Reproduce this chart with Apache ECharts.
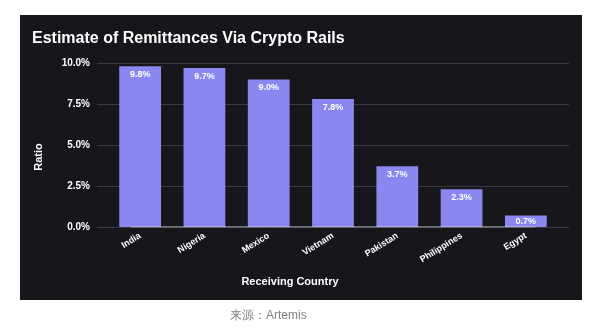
<!DOCTYPE html>
<html><head><meta charset="utf-8">
<script src="https://cdn.jsdelivr.net/npm/echarts@6/dist/echarts.min.js"></script>
<style>html,body{margin:0;padding:0;background:#fff}#c{width:600px;height:336px}</style>
</head><body><div id="c"></div>
<script>
const categories = ['India','Nigeria','Mexico','Vietnam','Pakistan','Philippines','Egypt'];
const values = [9.8, 9.7, 9.0, 7.8, 3.7, 2.3, 0.7];
const yTicks = [0, 2.5, 5, 7.5, 10];
const titleText = 'Estimate of Remittances Via Crypto Rails';
const xName = 'Receiving Country';
const yName = 'Ratio';
const sourceText = '来源：Artemis';

const font = '"Liberation Sans", Arial, sans-serif';
const chart = echarts.init(document.getElementById('c'), null, {renderer:'canvas'});
chart.setOption({
  backgroundColor: '#ffffff',
  animation: false,
  graphic: [
    {type:'rect', z:-10, shape:{x:20,y:15,width:562,height:285}, style:{fill:'#16161b'}},
    {type:'text', left:32, top:31, style:{text:titleText, fill:'#ffffff', font:'bold 16px '+font}},
    {type:'text', x:290, y:282, style:{text:xName, fill:'#ffffff', font:'bold 11px '+font, align:'center', verticalAlign:'middle'}},
    {type:'text', x:39, y:157, rotation:Math.PI/2, style:{text:yName, fill:'#ffffff', font:'bold 11px '+font, align:'center', verticalAlign:'middle'}},
    {type:'text', x:230, y:316, style:{text:sourceText, fill:'#808080', font:'12px '+font, verticalAlign:'middle'}}
  ],
  grid: [
    {left:97, right:31, top:63, bottom:109},
    {left:108, right:42, top:63, bottom:109}
  ],
  xAxis: [
    {type:'category', gridIndex:0, data:categories, show:false},
    {type:'category', gridIndex:1, data:categories,
     axisLine:{show:false}, axisTick:{show:false},
     axisLabel:{rotate:32, color:'#ffffff', fontWeight:'bold', fontSize:9, fontFamily:font, margin:8, interval:0}}
  ],
  yAxis: [
    {type:'value', gridIndex:0, min:yTicks[0], max:yTicks[yTicks.length-1], interval:2.5,
     axisLine:{show:false}, axisTick:{show:false},
     splitLine:{lineStyle:{color:'#3a3a42', width:1}},
     axisLabel:{color:'#ffffff', fontWeight:'bold', fontSize:10, fontFamily:font, margin:7,
       formatter: v => v.toFixed(1)+'%'}},
    {type:'value', gridIndex:1, min:yTicks[0], max:yTicks[yTicks.length-1], interval:2.5, show:false}
  ],
  series: [
    {type:'line', xAxisIndex:0, yAxisIndex:0, data:categories.map(()=>0), symbol:'none',
     lineStyle:{color:'#cfcfd4', width:1}, z:5, silent:true},
    {type:'bar', xAxisIndex:1, yAxisIndex:1,
     data: values.map(v => v < 1.5 ? {value:v, label:{position:'inside'}} : v),
     barCategoryGap:'35%',
     itemStyle:{color:'#8a88f0'}, z:3,
     label:{show:true, position:'insideTop', distance:4, color:'#ffffff', fontWeight:'bold', fontSize:9, fontFamily:font,
       formatter: p => p.value.toFixed(1)+'%'}}
  ]
});
</script></body></html>
